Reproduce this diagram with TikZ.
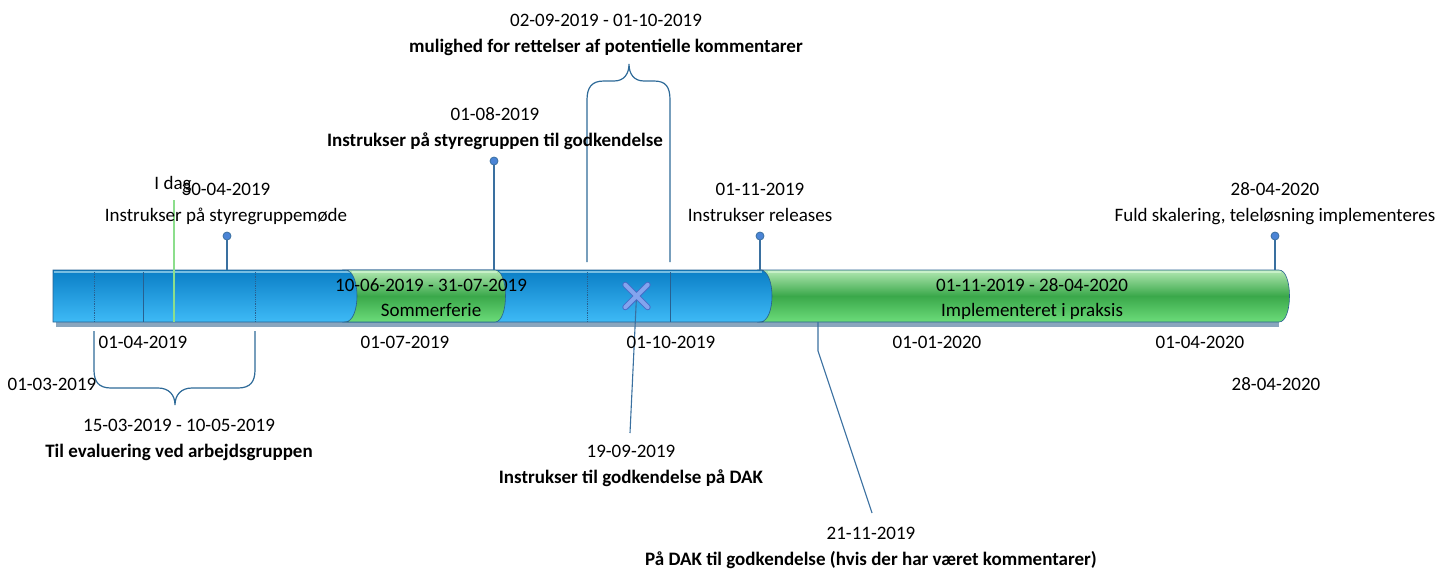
\documentclass[tikz,border=0pt]{standalone}
\usepackage{fontspec}
\setmainfont{Carlito}
\usetikzlibrary{positioning}

\definecolor{blueTop}{RGB}{10,126,198}
\definecolor{blueBottom}{RGB}{62,186,246}
\definecolor{blueEdge}{RGB}{120,190,226}
\definecolor{greenTop}{RGB}{178,232,178}
\definecolor{greenMid}{RGB}{58,168,74}
\definecolor{greenBottom}{RGB}{108,220,122}
\definecolor{greenEdge}{RGB}{200,240,200}
\definecolor{barLine}{RGB}{40,96,144}
\definecolor{shadowCol}{RGB}{138,166,190}
\definecolor{pinCol}{RGB}{58,112,160}
\definecolor{pinFill}{RGB}{74,132,214}
\definecolor{braceCol}{RGB}{46,106,152}
\definecolor{todayCol}{RGB}{140,222,140}
\definecolor{crossEdge}{RGB}{72,108,200}
\definecolor{crossFill}{RGB}{132,164,238}

\begin{document}
\begin{tikzpicture}[x=1pt, y=-1pt, >=latex]

    %
    % Styles for the bar, the pins and the texts
    %
    \tikzstyle{blueBar} = [draw=barLine, line width=0.6pt, top color=blueTop, bottom color=blueBottom]
    \tikzstyle{greenBar} = [draw=barLine, line width=0.6pt, top color=greenTop, bottom color=greenBottom,
                            middle color=greenMid]
    \tikzstyle{divider} = [draw=barLine, line width=0.8pt, densely dotted]
    \tikzstyle{solidDivider} = [draw=barLine, line width=0.8pt]
    \tikzstyle{pinLine} = [draw=pinCol, line width=1.3pt]
    \tikzstyle{pinHead} = [circle, draw=pinCol, fill=pinFill, line width=0.8pt, minimum size=8pt, inner sep=0pt]
    \tikzstyle{braceLine} = [draw=braceCol, line width=1.2pt]
    \tikzstyle{crossOuter} = [crossEdge, line width=6pt, line cap=round]
    \tikzstyle{crossInner} = [crossFill, line width=4pt, line cap=round]
    \tikzstyle{dateText} = [font=\fontsize{19}{22}\selectfont, inner sep=0pt, text height=14pt,
                            text depth=4pt, anchor=base]
    \tikzstyle{taskText} = [dateText, font=\fontsize{19}{22}\selectfont\bfseries]

    \useasboundingbox (0,0) rectangle (1452,570);

    %
    % The bar
    %
    \fill[shadowCol] (56,322) rectangle (1279,326.5);
    \path[blueBar] (53,270) -- (762,270) .. controls (776,270) and (776,322) .. (762,322)
      -- (53,322) -- cycle;
    \draw[blueEdge, line width=2.5pt] (54,271.8) -- (762,271.8);

    \draw[divider] (94,272) -- (94,322);
    \draw[solidDivider] (143,272) -- (143,322);
    \draw[divider] (255,272) -- (255,322);

    \path[greenBar] (345,270) -- (495,270) .. controls (509,270) and (509,322) .. (495,322)
      -- (345,322) .. controls (361,322) and (361,270) .. (345,270) -- cycle;
    \draw[greenEdge, line width=2pt] (352,271.6) -- (497,271.6);

    \draw[divider] (587,272) -- (587,322);
    \draw[solidDivider] (670,272) -- (670,322);

    \path[greenBar] (760,270) -- (1279,270) .. controls (1293,270) and (1293,322) .. (1279,322)
      -- (760,322) .. controls (776,322) and (776,270) .. (760,270) -- cycle;
    \draw[greenEdge, line width=2pt] (768,271.6) -- (1281,271.6);

    %
    % Today marker and the cross
    %
    \coordinate (todayTop) at (174,200);
    \coordinate (todayBottom) at (174,322);
    \draw[todayCol, line width=1.4pt] (todayTop) -- (todayBottom);

    \node[minimum size=22pt, inner sep=0pt, name=crossMark] at (636.5,296) {};
    \coordinate (dakFoot) at (630,433);
    \draw[pinLine, line width=1.1pt] (crossMark.center) -- (dakFoot);
    \draw[crossOuter] (crossMark.north west) -- (crossMark.south east)
      (crossMark.north east) -- (crossMark.south west);
    \draw[crossInner] (crossMark.north west) -- (crossMark.south east)
      (crossMark.north east) -- (crossMark.south west);

    %
    % Pins on top of the bar
    %
    \node[pinHead, name=styrePin] at (227,236) {};
    \node[pinHead, name=godkPin] at (494,161) {};
    \node[pinHead, name=releasePin] at (760,236) {};
    \node[pinHead, name=fuldPin] at (1275,236) {};
    \coordinate (styreFoot) at (227,270);
    \coordinate (godkFoot) at (494,270);
    \coordinate (releaseFoot) at (760,270);
    \coordinate (fuldFoot) at (1275,270);
    \draw[pinLine] (styrePin) -- (styreFoot);
    \draw[pinLine] (godkPin) -- (godkFoot);
    \draw[pinLine] (releasePin) -- (releaseFoot);
    \draw[pinLine] (fuldPin) -- (fuldFoot);

    %
    % Line below the bar
    %
    \coordinate (kommTop) at (818,322);
    \coordinate (kommBend) at (818,351);
    \coordinate (kommFoot) at (872,513);
    \draw[pinLine, line width=1.1pt] (kommTop) -- (kommBend) -- (kommFoot);

    %
    % Braces
    %
    \draw[braceLine] (587,262) -- (587,100) .. controls (587,87) and (592,81) .. (604,81)
      -- (614,81) .. controls (624,81) and (629,74) .. (629,64)
      .. controls (629,74) and (634,81) .. (644,81) -- (654,81)
      .. controls (666,81) and (670,87) .. (670,100) -- (670,262);
    \draw[braceLine] (94,331) -- (94,370) .. controls (94,382) and (99,388) .. (111,388)
      -- (158,388) .. controls (169,388) and (175,395) .. (175,405)
      .. controls (175,395) and (181,388) .. (192,388) -- (238,388)
      .. controls (250,388) and (255,382) .. (255,370) -- (255,331);

    %
    % Texts
    %
    \node[dateText, name=todayText] at (173,189) {I dag};
    \node[dateText, name=styreDate] at (226,195) {30-04-2019};
    \node[dateText, below=8pt of styreDate, name=styreTask] {Instrukser på styregruppemøde};
    \node[dateText, name=godkDate] at (495,120) {01-08-2019};
    \node[taskText, below=8pt of godkDate, name=godkTask] {Instrukser på styregruppen til godkendelse};
    \node[dateText, name=rettDate] at (606,26) {02-09-2019 - 01-10-2019};
    \node[taskText, below=8pt of rettDate, name=rettTask] {mulighed for rettelser af potentielle kommentarer};
    \node[dateText, name=releaseDate] at (760,195) {01-11-2019};
    \node[dateText, below=8pt of releaseDate, name=releaseTask] {Instrukser releases};
    \node[dateText, name=fuldDate] at (1275,195) {28-04-2020};
    \node[dateText, below=8pt of fuldDate, name=fuldTask] {Fuld skalering, teleløsning implementeres};

    \node[dateText, name=sommerDate] at (431,291) {10-06-2019 - 31-07-2019};
    \node[dateText, below=7pt of sommerDate, name=sommerTask] {Sommerferie};
    \node[dateText, name=implDate] at (1032,291) {01-11-2019 - 28-04-2020};
    \node[dateText, below=7pt of implDate, name=implTask] {Implementeret i praksis};

    \node[dateText, name=axisApr] at (143,348) {01-04-2019};
    \node[dateText, name=axisJul] at (405,348) {01-07-2019};
    \node[dateText, name=axisOkt] at (671,348) {01-10-2019};
    \node[dateText, name=axisJan] at (937,348) {01-01-2020};
    \node[dateText, name=axisAprTwo] at (1200,348) {01-04-2020};
    \node[dateText, name=axisMar] at (52,390) {01-03-2019};
    \node[dateText, name=axisEnd] at (1276,390) {28-04-2020};

    \node[dateText, name=evalDate] at (179,431) {15-03-2019 - 10-05-2019};
    \node[taskText, below=8pt of evalDate, name=evalTask] {Til evaluering ved arbejdsgruppen};
    \node[dateText, name=dakDate] at (631,457) {19-09-2019};
    \node[taskText, below=8pt of dakDate, name=dakTask] {Instrukser til godkendelse på DAK};
    \node[dateText, name=kommDate] at (871,539) {21-11-2019};
    \node[taskText, below=8pt of kommDate, name=kommTask] {På DAK til godkendelse (hvis der har været kommentarer)};
  \end{tikzpicture}
\end{document}
